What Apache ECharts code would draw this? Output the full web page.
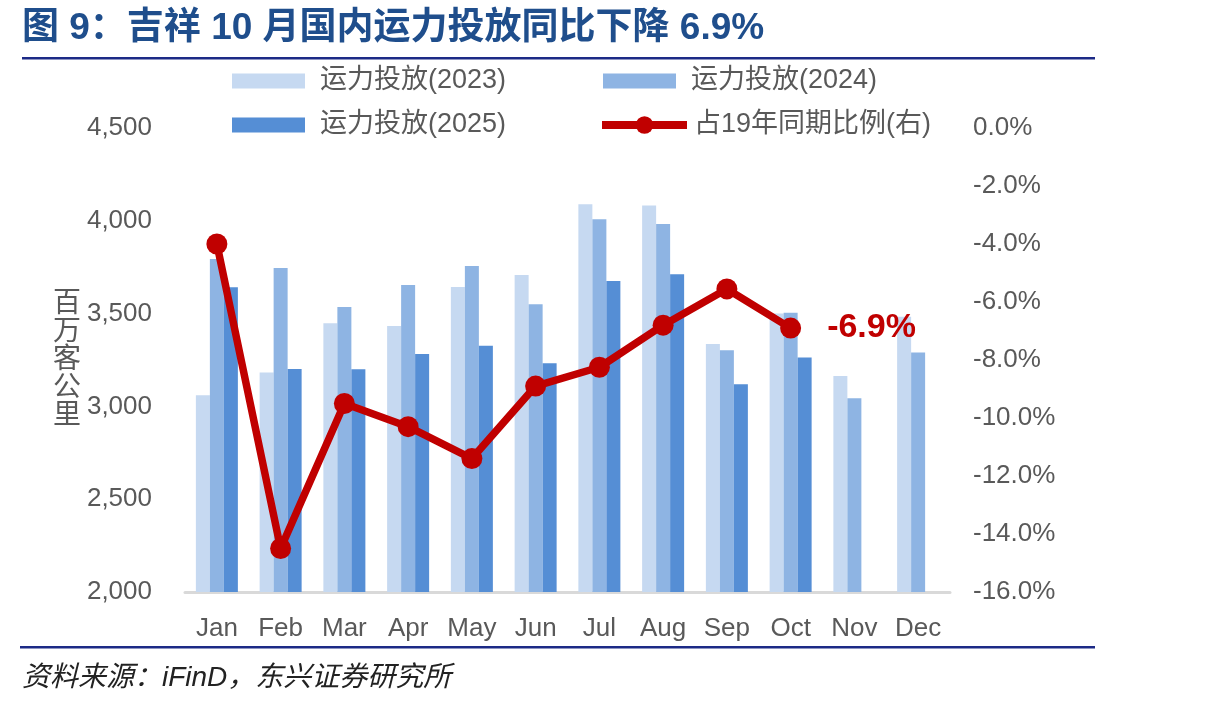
<!DOCTYPE html>
<html lang="zh">
<head>
  <meta charset="utf-8">
  <title>吉祥 10 月国内运力投放</title>
  <script src="https://cdn.jsdelivr.net/npm/echarts@6/dist/echarts.min.js"></script>
  <style>
    html, body { margin: 0; padding: 0; background: #fff; }
    #chart { width: 1215px; height: 709px; }
  </style>
</head>
<body>
<div id="chart"></div>
<script>
  // 数据（百万客公里 / %）
  var months = ['Jan', 'Feb', 'Mar', 'Apr', 'May', 'Jun', 'Jul', 'Aug', 'Sep', 'Oct', 'Nov', 'Dec'];
  var cap2023 = [3060, 3182, 3448, 3433, 3643, 3708, 4089, 4083, 3336, 3500, 3164, 3483];
  var cap2024 = [3794, 3746, 3536, 3654, 3756, 3550, 4008, 3983, 3302, 3505, 3044, 3290];
  var cap2025 = [3642, 3201, 3200, 3282, 3327, 3232, 3676, 3712, 3119, 3264, null, null];
  var ratioVs19 = [-4.0, -14.5, -9.5, -10.3, -11.4, -8.9, -8.25, -6.8, -5.55, -6.9, null, null];
  var leftTicks = { min: 2000, max: 4500, step: 500 };
  var rightTicks = { min: -16, max: 0, step: 2 };

  var FONT = "'Liberation Sans', 'Noto Sans CJK SC', sans-serif";
  var GREY = '#595959';
  var RED = '#C00000';

  var lastIdx = 0;
  ratioVs19.forEach(function (v, i) { if (v !== null) lastIdx = i; });
  var lineData = ratioVs19.map(function (v, i) {
    if (i !== lastIdx) return v;
    return {
      value: v,
      label: {
        show: true, position: 'right', distance: 26,
        formatter: function (p) { return p.value.toFixed(1) + '%'; },
        color: RED, fontSize: 34, fontWeight: 'bold', fontFamily: FONT
      }
    };
  });

  function commas(v) {
    return String(v).replace(/\B(?=(\d{3})+(?!\d))/g, ',');
  }

  function legendAt(name, left, top, w, h, pad) {
    return {
      data: [name], left: left, top: top, padding: 0,
      itemWidth: w, itemHeight: h, selectedMode: false,
      icon: name.indexOf('占') === 0 ? undefined : 'rect',
      lineStyle: { width: 8 },
      textStyle: { color: GREY, fontSize: 27, fontFamily: FONT, lineHeight: 30, padding: [0, 0, 0, pad] }
    };
  }

  var chart = echarts.init(document.getElementById('chart'));

  var option = {
    animation: false,
    legend: [
      legendAt('运力投放(2023)', 232, 66, 73, 15, 10),
      legendAt('运力投放(2024)', 603, 66, 73, 15, 10),
      legendAt('运力投放(2025)', 232, 110, 73, 15, 10),
      legendAt('占19年同期比例(右)', 598, 110, 85, 22, 2)
    ],
    grid: { left: 185, right: 265, top: 128, bottom: 117 },
    xAxis: {
      type: 'category',
      data: months,
      axisLine: { onZero: false, lineStyle: { color: '#D9D9D9', width: 3 } },
      axisTick: { show: false },
      axisLabel: { interval: 0, color: GREY, fontSize: 26, fontFamily: FONT, margin: 24 }
    },
    yAxis: [
      {
        type: 'value',
        min: leftTicks.min, max: leftTicks.max, interval: leftTicks.step,
        name: '百\n万\n客\n公\n里',
        nameLocation: 'middle', nameRotate: 0, nameGap: 103,
        nameTextStyle: { color: GREY, fontSize: 28, fontFamily: FONT, lineHeight: 28 },
        axisLine: { show: false },
        axisTick: { show: false },
        splitLine: { show: false },
        axisLabel: { color: GREY, fontSize: 26, fontFamily: FONT, margin: 33, formatter: commas }
      },
      {
        type: 'value',
        min: rightTicks.min, max: rightTicks.max, interval: rightTicks.step,
        axisLine: { show: false },
        axisTick: { show: false },
        splitLine: { show: false },
        axisLabel: {
          color: GREY, fontSize: 26, fontFamily: FONT, margin: 23,
          formatter: function (v) { return v.toFixed(1) + '%'; }
        }
      }
    ],
    series: [
      { name: '运力投放(2023)', type: 'bar', data: cap2023, barWidth: 14, barGap: '0%',
        itemStyle: { color: '#C6D9F1' } },
      { name: '运力投放(2024)', type: 'bar', data: cap2024, barWidth: 14, barGap: '0%',
        itemStyle: { color: '#8EB4E3' } },
      { name: '运力投放(2025)', type: 'bar', data: cap2025, barWidth: 14, barGap: '0%',
        itemStyle: { color: '#558ED5' } },
      { name: '占19年同期比例(右)', type: 'line', yAxisIndex: 1, data: lineData,
        symbol: 'circle', symbolSize: 21, z: 5,
        lineStyle: { color: RED, width: 7.5 },
        itemStyle: { color: RED } }
    ],
    graphic: [
      { type: 'text', left: 22, top: 10,
        style: { text: '图 9：吉祥 10 月国内运力投放同比下降 6.9%', fill: '#1F4E8C',
                 font: "bold 37px 'Liberation Sans', 'Noto Sans CJK SC', sans-serif" } },
      { type: 'rect', shape: { x: 22, y: 57, width: 1073, height: 2.5 },
        style: { fill: '#1C2A86' } },
      { type: 'rect', shape: { x: 20, y: 646, width: 1075, height: 2.5 },
        style: { fill: '#1C2A86' } },
      { type: 'text', left: 22, top: 664,
        style: { text: '资料来源：iFinD，东兴证券研究所', fill: '#222',
                 font: "italic 28px 'Liberation Sans', 'Noto Sans CJK SC', sans-serif" } }
    ]
  };

  chart.setOption(option);
</script>
</body>
</html>
